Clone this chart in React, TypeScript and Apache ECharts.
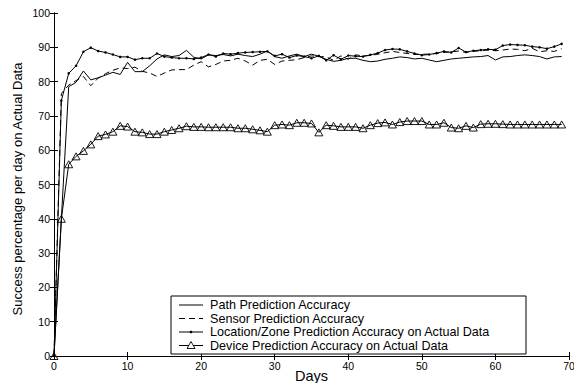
import React, { useEffect, useRef } from "react";
import * as echarts from "echarts";

const days = [
  0, 1, 2, 3, 4, 5, 6, 7, 8, 9, 10, 11, 12, 13, 14, 15, 16, 17, 18, 19,
  20, 21, 22, 23, 24, 25, 26, 27, 28, 29, 30, 31, 32, 33, 34, 35, 36, 37, 38, 39,
  40, 41, 42, 43, 44, 45, 46, 47, 48, 49, 50, 51, 52, 53, 54, 55, 56, 57, 58, 59,
  60, 61, 62, 63, 64, 65, 66, 67, 68, 69,
];

const pathAcc = [
  0, 40, 78.5, 79.8, 83.1, 80.5, 81.1, 81.9, 82.7, 82.1,
  85.6, 82.9, 82.9, 84.6, 86.6, 87.8, 87.3, 87.6, 89.1, 87.1,
  86.6, 87.8, 87.6, 87.9, 87.5, 88.0, 87.6, 87.3, 88.0, 88.9,
  87.3, 86.8, 87.5, 88.0, 87.3, 88.0, 87.4, 86.5, 85.9, 86.2,
  86.8, 86.8, 86.2, 85.8, 86.0, 86.5, 86.8, 87.2, 87.0, 86.6,
  86.8, 86.3, 85.8, 86.2, 86.6, 86.8, 87.0, 87.2, 87.3, 87.6,
  86.3, 87.2, 87.3, 87.6, 87.8, 87.6, 87.3, 86.6, 87.2, 87.3,
];

const sensorAcc = [
  0, 76.5, 79.0, 80.3, 81.5, 78.8, 81.0, 82.3, 83.3, 84.0,
  83.8, 84.2, 83.0, 82.5, 81.5, 82.5, 83.4, 83.5, 83.5, 84.8,
  85.8, 84.3, 85.0, 86.0, 86.2, 86.8, 86.0, 84.8, 86.2, 86.5,
  85.0, 86.0, 86.2, 86.4, 87.0, 87.5, 87.3, 87.2, 86.2, 87.5,
  86.5, 87.8, 87.5, 87.6, 88.0, 88.4, 88.8, 88.5, 88.2, 87.9,
  88.0, 88.0, 88.2, 88.5, 88.7, 88.9, 88.5, 88.8, 89.0, 89.2,
  89.0, 89.2, 89.5, 89.4, 89.0, 89.7, 88.7, 89.0, 88.8, 89.6,
];

const locationAcc = [
  0, 74.5, 82.4, 84.6, 88.7, 89.9, 88.9, 88.5, 87.9, 87.2,
  87.2, 86.4, 86.8, 86.8, 88.2, 87.3, 87.0, 86.8, 86.8, 86.6,
  87.0, 87.9, 87.3, 88.2, 88.0, 88.3, 88.5, 88.6, 88.7, 88.8,
  87.5, 88.0, 87.0, 87.6, 87.3, 86.8, 87.5, 86.2, 87.7, 86.5,
  87.6, 87.4, 87.3, 87.8, 88.3, 89.2, 89.5, 89.4, 88.8, 88.2,
  87.7, 87.9, 88.3, 88.8, 88.5, 89.8, 88.6, 89.0, 89.2, 89.4,
  89.3, 90.5, 90.8, 90.7, 90.6, 90.2, 90.0, 89.6, 90.2, 91.0,
];

const deviceAcc = [
  0, 40, 55.9, 58.2, 59.8, 61.7, 64.1, 64.6, 65.4, 67.1,
  66.9, 65.4, 65.2, 64.7, 64.7, 65.4, 65.9, 66.4, 67.0, 66.8,
  66.8, 66.7, 66.7, 66.7, 66.7, 66.4, 66.4, 66.1, 65.8, 65.4,
  67.3, 67.5, 67.3, 68.0, 68.0, 67.8, 65.2, 67.3, 67.1, 66.8,
  66.8, 66.8, 66.4, 67.3, 67.9, 68.1, 67.5, 68.2, 68.5, 68.5,
  68.5, 67.5, 67.5, 68.0, 66.6, 66.4, 67.1, 66.6, 67.6, 67.7,
  67.7, 67.6, 67.5, 67.5, 67.5, 67.5, 67.5, 67.5, 67.5, 67.5,
];

const seriesNames = [
  "Path Prediction Accuracy",
  "Sensor Prediction Accuracy",
  "Location/Zone Prediction Accuracy on Actual Data",
  "Device Prediction Accuracy on Actual Data",
];

const xTicks = [0, 10, 20, 30, 40, 50, 60, 70];
const yTicks = [0, 10, 20, 30, 40, 50, 60, 70, 80, 90, 100];
const xTitle = "Days";
const yTitle = "Success percentage per day on Actual Data";

const FONT = "'Liberation Sans', Arial, Helvetica, sans-serif";

function pairs(vals: number[]) {
  return days.map((d, i) => [d, vals[i]]);
}

export default function App() {
  const ref = useRef<HTMLDivElement>(null);
  useEffect(() => {
    if (!ref.current) return;
    const chart = echarts.init(ref.current, undefined, { renderer: "svg" });
    const axisCommon = {
      axisLine: { show: true, lineStyle: { color: "#000", width: 1 } },
      axisTick: { show: true, inside: true, length: 4, lineStyle: { color: "#000" } },
      splitLine: { show: false },
    };
    const xMin = xTicks[0];
    const xMax = xTicks[xTicks.length - 1];
    const yMin = yTicks[0];
    const yMax = yTicks[yTicks.length - 1];

    // legend drawn as graphic (MATLAB style)
    const lgX = 171, lgY = 296, lgW = 355, lgH = 58;
    const rowY = [305, 318.5, 332, 345.5];
    const sx0 = 179, sx1 = 203, tx = 210;
    const lgFont = `12.6px ${FONT}`;
    const els: any[] = [
      {
        type: "rect",
        shape: { x: lgX, y: lgY, width: lgW, height: lgH },
        style: { fill: "#fff", stroke: "#000", lineWidth: 1 },
        z: 100,
      },
    ];
    seriesNames.forEach((name, i) => {
      const y = rowY[i];
      els.push({
        type: "line",
        shape: { x1: sx0, y1: y, x2: sx1, y2: y },
        style: { stroke: "#000", lineWidth: 1, lineDash: i === 1 ? [6, 4] : null },
        z: 101,
      });
      els.push({
        type: "text",
        x: tx,
        y: y,
        style: { text: name, font: lgFont, fill: "#000", verticalAlign: "middle", align: "left", lineHeight: 12.6 },
        z: 101,
      });
    });
    const mx = (sx0 + sx1) / 2;
    els.push({
      type: "circle",
      shape: { cx: mx, cy: rowY[2], r: 1.3 },
      style: { fill: "#000" },
      z: 102,
    });
    els.push({
      type: "polygon",
      shape: { points: [[mx, rowY[3] - 4], [mx - 4, rowY[3] + 3], [mx + 4, rowY[3] + 3]] },
      style: { fill: "#fff", stroke: "#000", lineWidth: 0.9 },
      z: 102,
    });
    els.push({
      type: "text",
      x: 17,
      y: 189,
      rotation: Math.PI / 2,
      style: { text: yTitle, font: `13px ${FONT}`, fill: "#000", align: "center", verticalAlign: "middle" },
      z: 50,
    });
    els.push({
      type: "text",
      x: 311.5,
      y: 376,
      style: { text: xTitle, font: `14.5px ${FONT}`, fill: "#000", align: "center", verticalAlign: "middle" },
      z: 50,
    });

    chart.setOption({
      animation: false,
      backgroundColor: "#fff",
      textStyle: { fontFamily: FONT },
      grid: { left: 54, right: 5, top: 13, bottom: 27, containLabel: false, outerBoundsMode: "none" },
      xAxis: [
        {
          type: "value",
          min: xMin,
          max: xMax,
          interval: 10,
          axisLabel: { fontSize: 10.5, color: "#000", margin: 4, fontFamily: FONT },
          ...axisCommon,
        },
        {
          type: "value",
          position: "top",
          min: xMin,
          max: xMax,
          interval: 10,
          axisLabel: { show: false },
          ...axisCommon,
        },
      ],
      yAxis: [
        {
          type: "value",
          min: yMin,
          max: yMax,
          interval: 10,
          axisLabel: { fontSize: 10.5, color: "#000", margin: 4, fontFamily: FONT },
          ...axisCommon,
        },
        {
          type: "value",
          position: "right",
          min: yMin,
          max: yMax,
          interval: 10,
          axisLabel: { show: false },
          ...axisCommon,
        },
      ],
      graphic: els,
      series: [
        {
          name: seriesNames[0],
          type: "line",
          data: pairs(pathAcc),
          symbol: "none",
          lineStyle: { color: "#000", width: 1 },
          itemStyle: { color: "#000" },
        },
        {
          name: seriesNames[1],
          type: "line",
          data: pairs(sensorAcc),
          symbol: "none",
          lineStyle: { color: "#000", width: 1, type: [6, 4] },
          itemStyle: { color: "#000" },
        },
        {
          name: seriesNames[2],
          type: "line",
          data: pairs(locationAcc),
          symbol: "circle",
          symbolSize: 2.5,
          lineStyle: { color: "#000", width: 1 },
          itemStyle: { color: "#000", borderWidth: 0 },
        },
        {
          name: seriesNames[3],
          type: "line",
          data: pairs(deviceAcc),
          symbol: "triangle",
          symbolSize: [8, 7],
          lineStyle: { color: "#000", width: 1 },
          itemStyle: { color: "rgba(255,255,255,0)", borderColor: "#000", borderWidth: 0.9 },
        },
      ],
    });
    return () => chart.dispose();
  }, []);
  return <div ref={ref} style={{ width: 574, height: 383, position: "absolute", left: 0, top: 0 }} />;
}
